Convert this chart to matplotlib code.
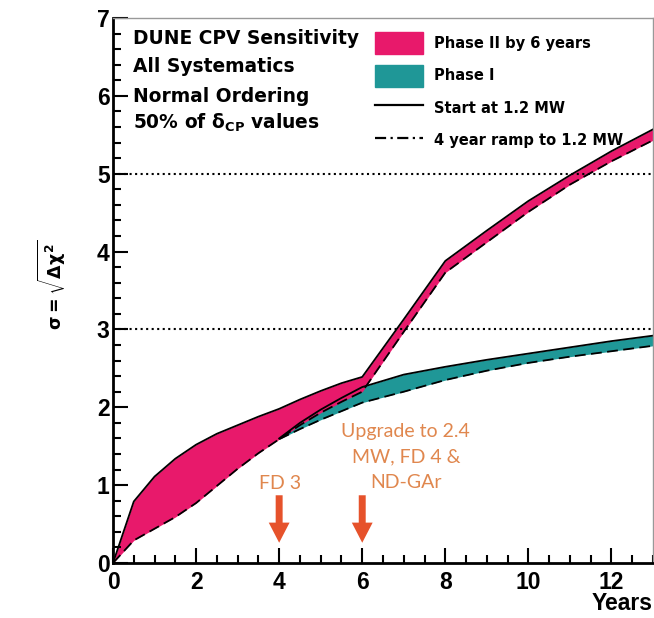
import matplotlib
matplotlib.use("Agg")
import matplotlib.pyplot as plt
from matplotlib.patches import Patch
from matplotlib.lines import Line2D
from matplotlib.ticker import MultipleLocator

plt.rcParams['font.family'] = ['Liberation Sans', 'DejaVu Sans']
plt.rcParams['mathtext.fontset'] = 'custom'
plt.rcParams['mathtext.rm'] = 'DejaVu Sans:bold'
plt.rcParams['mathtext.it'] = 'DejaVu Sans:bold'
plt.rcParams['mathtext.bf'] = 'DejaVu Sans:bold'

# Phase II by 6 years (pink band)
years2 = [0, 0.5, 1, 1.5, 2, 2.5, 3, 3.5, 4, 4.5, 5, 5.5, 6, 7, 8, 9, 10, 11, 12, 13]
p2_start = [0, 0.79, 1.11, 1.34, 1.52, 1.66, 1.77, 1.88, 1.98, 2.10, 2.21, 2.31, 2.39,
            3.13, 3.88, 4.27, 4.65, 4.98, 5.29, 5.57]
p2_ramp = [0, 0.29, 0.44, 0.59, 0.77, 0.99, 1.21, 1.41, 1.59, 1.77, 1.93, 2.07, 2.20,
           2.97, 3.73, 4.12, 4.51, 4.86, 5.16, 5.43]

# Phase I (teal band)
years1 = [4, 4.5, 5, 5.5, 6, 7, 8, 9, 10, 11, 12, 13]
p1_start = [1.60, 1.80, 1.97, 2.12, 2.26, 2.42, 2.52, 2.61, 2.69, 2.77, 2.85, 2.92]
p1_ramp = [1.59, 1.72, 1.84, 1.95, 2.06, 2.20, 2.35, 2.47, 2.57, 2.65, 2.72, 2.79]

sigma_lines = [3, 5]
milestones = [4, 6]
milestone_text = ['FD 3', 'Upgrade to 2.4\nMW, FD 4 &\nND-GAr']

pink = '#e8196b'
teal = '#1f9797'
orange = '#e6522b'
orange_txt = '#e0874e'
dash = (0, (6, 3))

fig = plt.figure(figsize=(6.54, 6.18), dpi=100)
ax = fig.add_axes([113/654, 1-563/618, 540/654, 545/618])

ax.fill_between(years1, p1_ramp, p1_start, color=teal, lw=0)
ax.plot(years1, p1_start, color='black', lw=1.3)
ax.plot(years1, p1_ramp, color='black', lw=1.3, ls=dash)
ax.fill_between(years2, p2_ramp, p2_start, color=pink, lw=0)
ax.plot(years2, p2_start, color='black', lw=1.3)
ax.plot(years2, p2_ramp, color='black', lw=1.3, ls=dash)

for s in sigma_lines:
    ax.axhline(s, color='black', ls=':', lw=1.5)

# milestone arrows + notes
for xm in milestones:
    ax.annotate('', xy=(xm, 0.26), xytext=(xm, 0.87),
                arrowprops=dict(width=5, headwidth=15, headlength=14.5, color=orange, lw=0))
ax.text(4.03, 1.02, milestone_text[0], color=orange_txt, fontsize=14, family='Lato',
        ha='center', va='center')
ax.text(7.05, 1.36, milestone_text[1], color=orange_txt, fontsize=14, family='Lato',
        ha='center', va='center', linespacing=1.6)

ax.set_xlim(0, 13)
ax.set_ylim(0, 7)
ax.xaxis.set_major_locator(MultipleLocator(2))
ax.xaxis.set_minor_locator(MultipleLocator(0.5))
ax.yaxis.set_major_locator(MultipleLocator(1))
ax.yaxis.set_minor_locator(MultipleLocator(0.2))
ax.tick_params(which='both', direction='in', width=1.5, labelsize=16.5)
ax.tick_params(which='major', length=11)
ax.tick_params(which='minor', length=6)
ax.tick_params(axis='x', which='major', pad=6)
ax.tick_params(axis='y', which='major', pad=2.5)
for lab in ax.get_xticklabels() + ax.get_yticklabels():
    lab.set_fontweight('bold')

for side in ['left', 'bottom']:
    ax.spines[side].set_linewidth(2)
for side in ['top', 'right']:
    ax.spines[side].set_color('#999999')
    ax.spines[side].set_linewidth(1)

ax.set_ylabel(r'$\sigma = \sqrt{\Delta\chi^2}$', fontsize=12.5)
ax.yaxis.set_label_coords(-45/540, 0.51)
fig.text(653/654, 1-604/618, 'Years', fontsize=16.5, fontweight='bold', ha='right', va='center')

# info block
info = ['DUNE CPV Sensitivity', 'All Systematics', 'Normal Ordering',
        r'50% of $\mathrm{\delta}_{\mathrm{CP}}$ values']
info_y = [38, 67, 97, 123]
for t, yy in zip(info, info_y):
    ax.text(20/540, (563-yy)/545, t, transform=ax.transAxes, fontsize=13.4,
            family='DejaVu Sans', fontweight='bold', va='center', ha='left')

handles = [Patch(color=pink), Patch(color=teal),
           Line2D([], [], color='black', lw=1.6),
           Line2D([], [], color='black', lw=1.6, ls=(0, (5, 2, 1, 2)))]
labels = ['Phase II by 6 years', 'Phase I', 'Start at 1.2 MW', '4 year ramp to 1.2 MW']
leg = ax.legend(handles, labels, loc='upper left', bbox_to_anchor=(262/540, 531/545),
                frameon=False, borderpad=0, borderaxespad=0, handlelength=3.3,
                handleheight=1.95, handletextpad=0.75, labelspacing=0.72,
                prop={'family': 'DejaVu Sans', 'weight': 'bold', 'size': 10.5})

fig.savefig('out.png', dpi=100)
